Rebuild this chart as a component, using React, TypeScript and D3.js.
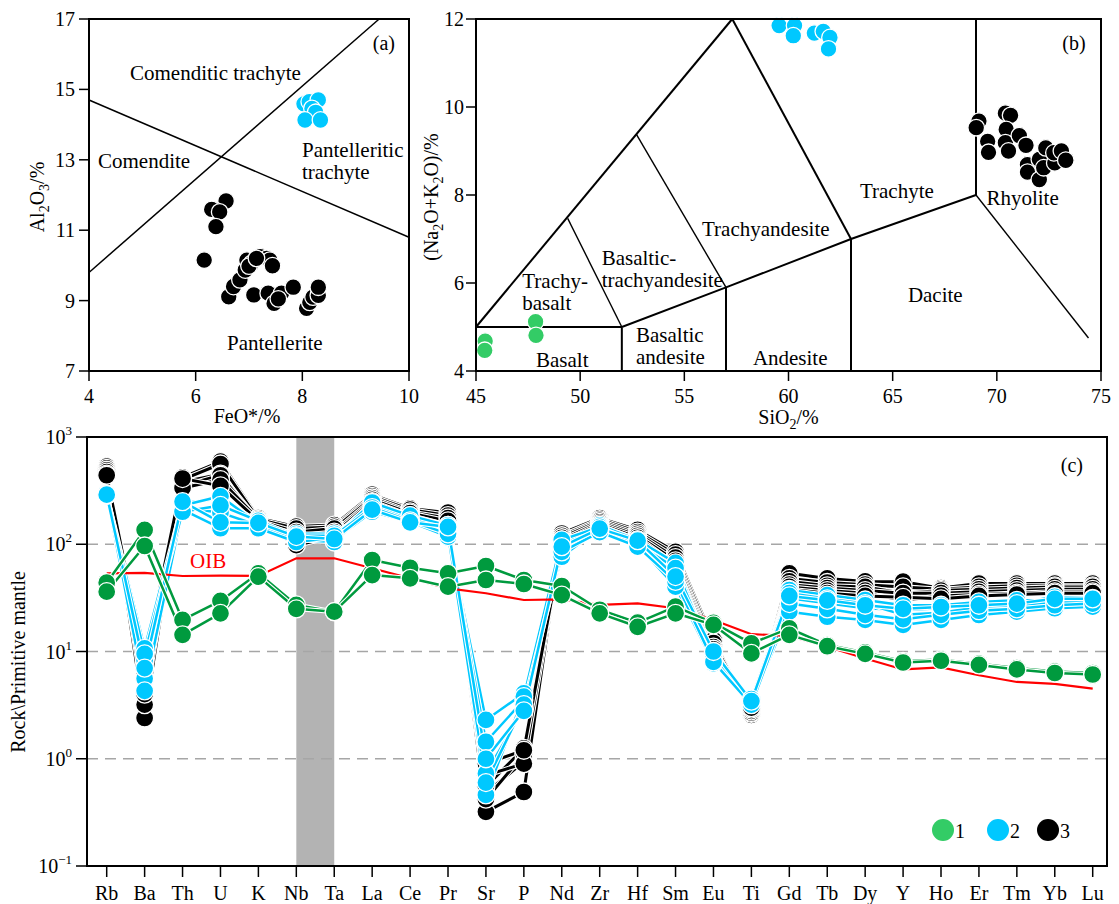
import React from 'react';
import * as d3 from 'd3';

const FONT = '"Liberation Serif", "Times New Roman", Times, serif';

// ---------- Panel (a) data ----------
const aXTicks = [4, 6, 8, 10];
const aYTicks = [7, 9, 11, 13, 15, 17];
const aBoundaryDesc: [number, number][] = [[4, 14.7], [10, 10.8]];
const aBoundaryAsc: [number, number][] = [[4, 9.8], [9.44, 17]];
const aBlack: [number, number][] = [
  [6.57, 11.83], [6.36, 11.57], [6.3, 11.59], [6.45, 11.52], [6.38, 11.1], [6.16, 10.15],
  [6.62, 9.11], [6.71, 9.4], [6.83, 9.59], [6.93, 9.87], [6.96, 10.15], [7.05, 10.06],
  [7.21, 10.25], [7.33, 10.2], [7.39, 10.15], [7.44, 9.99], [7.09, 9.16], [7.36, 9.21],
  [7.47, 8.92], [7.61, 9.21], [7.55, 9.05], [7.83, 9.38], [8.08, 8.78], [8.14, 8.95],
  [8.2, 9.1], [8.3, 9.15], [8.3, 9.38], [7.0, 9.98], [7.14, 10.2],
];
const aBlue: [number, number][] = [
  [8.03, 14.59], [8.13, 14.65], [8.3, 14.7], [8.18, 14.46], [8.25, 14.35], [8.05, 14.13], [8.34, 14.13],
];

// ---------- Panel (b) data ----------
const bXTicks = [45, 50, 55, 60, 65, 70, 75];
const bYTicks = [4, 6, 8, 10, 12];
const tasThick: [number, number][][] = [
  [[45, 5], [57.3, 12]],
  [[57.3, 12], [63, 7]],
  [[45, 5], [52, 5]],
  [[52, 4], [52, 5], [57, 5.9], [63, 7], [69, 8], [69, 12]],
  [[57, 4], [57, 5.9]],
  [[63, 4], [63, 7]],
];
const tasThin: [number, number][][] = [
  [[49.4, 7.47], [52, 5]],
  [[52.7, 9.38], [57, 5.9]],
  [[69, 8], [74.4, 4.75]],
];
const bGreen: [number, number][] = [[45.44, 4.68], [45.42, 4.47], [47.86, 5.12], [47.88, 4.81]];
const bBlue: [number, number][] = [
  [59.55, 11.85], [60.29, 11.85], [60.23, 11.62], [61.24, 11.68], [61.67, 11.72], [61.99, 11.58], [61.92, 11.32],
];
const bBlack: [number, number][] = [
  [69.14, 9.68], [69.01, 9.53], [69.56, 9.22], [69.6, 8.97], [70.41, 9.86], [70.66, 9.81],
  [70.45, 9.49], [70.41, 9.19], [70.56, 9.0], [71.08, 9.35], [71.4, 9.13], [71.47, 8.69],
  [71.47, 8.52], [72.04, 8.35], [72.04, 8.81], [72.25, 8.62], [72.35, 9.07], [72.78, 8.73],
  [72.74, 8.96], [73.1, 9.0], [73.31, 8.79],
];

// ---------- Panel (c) data ----------
const elements = ['Rb', 'Ba', 'Th', 'U', 'K', 'Nb', 'Ta', 'La', 'Ce', 'Pr', 'Sr', 'P', 'Nd', 'Zr', 'Hf',
  'Sm', 'Eu', 'Ti', 'Gd', 'Tb', 'Dy', 'Y', 'Ho', 'Er', 'Tm', 'Yb', 'Lu'];
const cYExponents = [-1, 0, 1, 2, 3];
const oib = [53.6, 54, 50.6, 51, 50.6, 74, 74, 59.7, 48.1, 38.8, 34.9, 30.2, 30.6, 27.2, 28.1, 25.3, 19.7,
  14.5, 14.0, 11.1, 8.6, 6.8, 7.1, 6.0, 5.2, 5.0, 4.5];
const group1 = [
  [43.8, 136, 19.7, 29.6, 53.6, 27.2, 23.5, 71.3, 60.4, 53.6, 62.7, 46.4, 40.8, 24.5, 18.6, 26.2, 18.5, 11.9, 16.4, 11.5, 9.8, 8.1, 8.4, 7.7, 7.0, 6.5, 6.3],
  [36.1, 96.3, 14.3, 22.7, 49.9, 25.0, 23.5, 51.6, 48.1, 40.2, 46.4, 42.6, 33.6, 22.7, 17.0, 22.7, 17.7, 9.6, 14.3, 11.2, 9.5, 7.9, 8.2, 7.5, 6.8, 6.3, 6.1],
];
const group2 = [
  [290, 10.7, 241, 268, 162, 114, 110, 201, 162, 118, 2.3, 4.07, 76.5, 141, 98.4, 40.2, 7.76, 3.4, 23.5, 21.1, 19.7, 17.7, 19.7, 21.9, 23.5, 25.3, 26.2],
  [292, 8.3, 230, 280, 155, 125, 125, 215, 170, 130, 1.44, 3.53, 90, 135, 105, 53.6, 9.6, 3.3, 31.3, 28.1, 25.3, 24.4, 25.3, 28.1, 28.1, 32.4, 31.3],
  [285, 5.6, 220, 197, 150, 110, 105, 230, 175, 140, 0.73, 2.95, 100, 150, 110, 66.9, 8.5, 3.5, 37.4, 33.6, 30.2, 27, 27, 29, 30, 30, 30],
  [295, 4.3, 210, 141, 141, 105, 115, 245, 185, 150, 0.46, 3.8, 110, 145, 100, 60, 9, 3.6, 35, 31, 28, 22, 23, 26, 27, 29, 29],
  [288, 9.5, 201, 230, 165, 120, 120, 220, 165, 125, 0.6, 3.2, 85, 130, 95, 45, 8, 3.2, 28, 25, 22, 20, 22, 24, 25, 27, 28],
  [290, 7, 250, 160, 158, 118, 112, 210, 160, 145, 1.0, 2.8, 95, 140, 108, 50, 10, 3.45, 33, 30, 27, 25, 26, 27, 28, 31, 31],
];
const group3 = [
  [530, 2.4, 420, 590, 175, 146, 151, 290, 216, 197, 0.32, 0.49, 126, 175, 136, 85, 12.8, 2.56, 53.6, 48, 45, 44.8, 39, 43, 43, 43, 43],
  [510, 3.2, 400, 560, 170, 140, 145, 280, 210, 185, 0.48, 0.94, 120, 170, 130, 80, 12, 2.65, 48, 44, 42, 40, 38, 40, 41, 41, 41],
  [490, 4.0, 380, 450, 165, 130, 140, 270, 200, 175, 0.55, 1.25, 115, 165, 125, 75, 11, 2.7, 45, 41, 40, 34.9, 37, 38, 39, 40, 40],
  [470, 5.5, 350, 440, 160, 120, 130, 260, 195, 165, 0.42, 1.1, 110, 160, 120, 70, 10.5, 2.8, 42, 39, 37, 35, 35, 36, 37, 38, 38],
  [450, 7, 335, 400, 170, 110, 125, 250, 185, 150, 0.7, 0.9, 105, 155, 115, 65, 10, 2.9, 40, 37, 35, 30, 33, 34, 35, 36, 36],
  [440, 8, 410, 350, 165, 98, 118, 240, 180, 140, 0.9, 1.2, 100, 150, 110, 60, 9.5, 3.0, 38, 35, 33, 32, 31, 33, 34, 35, 35],
];
const legendItems = ['1', '2', '3'];

// ---------- colours ----------
const GREEN_LIGHT = '#33cc66';
const GREEN_DARK = '#009a3e';
const BLUE = '#00c8ff';
const BLACK = '#000000';

export default function App() {
  // panel a scales
  const ax = d3.scaleLinear().domain([4, 10]).range([89, 409]);
  const ay = d3.scaleLinear().domain([7, 17]).range([371, 19]);
  // panel b scales
  const bx = d3.scaleLinear().domain([45, 75]).range([476, 1101]);
  const by = d3.scaleLinear().domain([4, 12]).range([371, 19]);
  // panel c scales
  const cx = d3.scalePoint<string>().domain(elements).range([106.7, 1092.7]);
  const cy = d3.scaleLog().domain([0.1, 1000]).range([866, 437]);

  const aLine = d3.line<[number, number]>().x(d => ax(d[0])).y(d => ay(d[1]));
  const bLine = d3.line<[number, number]>().x(d => bx(d[0])).y(d => by(d[1]));
  const cLine = d3.line<number>().x((_, i) => cx(elements[i]) as number).y(d => cy(d));

  const tick = 10;
  const LBL = 21;

  const drawGroup = (data: number[][], color: string, width: number, key: string) => (
    <g key={key}>
      {data.map((s, i) => (
        <g key={'l' + i}>
          <path d={cLine(s) || ''} fill="none" stroke="#fff" strokeWidth={width + 2.2} strokeLinejoin="round" />
          <path d={cLine(s) || ''} fill="none" stroke={color} strokeWidth={width} strokeLinejoin="round" />
        </g>
      ))}
      {data.map((s, i) => (
        <g key={'m' + i}>
          {s.map((v, j) => (
            <circle key={j} cx={cx(elements[j])} cy={cy(v)} r={9} fill={color} stroke="#fff" strokeWidth={1.3} />
          ))}
        </g>
      ))}
    </g>
  );

  const legendColors = [GREEN_LIGHT, BLUE, BLACK];
  const legendX = [943, 998, 1048];

  return (
    <svg width={1119} height={904} style={{ position: 'absolute', left: 0, top: 0, background: '#fff' }}
      fontFamily={FONT} fontSize={20}>
      <rect x={0} y={0} width={1119} height={904} fill="#fff" />

      {/* ================= Panel (a) ================= */}
      <g>
        <path d={aLine(aBoundaryDesc) || ''} stroke="#000" strokeWidth={1.5} fill="none" />
        <path d={aLine(aBoundaryAsc) || ''} stroke="#000" strokeWidth={1.5} fill="none" />
        {aBlack.map((p, i) => (
          <circle key={'ab' + i} cx={ax(p[0])} cy={ay(p[1])} r={8.3} fill={BLACK} stroke="#fff" strokeWidth={1.3} />
        ))}
        {aBlue.map((p, i) => (
          <circle key={'au' + i} cx={ax(p[0])} cy={ay(p[1])} r={8.3} fill={BLUE} stroke="#fff" strokeWidth={1.3} />
        ))}
        <rect x={ax(4)} y={ay(17)} width={ax(10) - ax(4)} height={ay(7) - ay(17)} fill="none" stroke="#000" strokeWidth={2} />
        {aXTicks.map(t => (
          <g key={'axt' + t}>
            <line x1={ax(t)} x2={ax(t)} y1={ay(7)} y2={ay(7) + tick} stroke="#000" strokeWidth={1.5} />
            <text x={ax(t)} y={403} textAnchor="middle">{t}</text>
          </g>
        ))}
        {aYTicks.map(t => (
          <g key={'ayt' + t}>
            <line x1={ax(4) - tick} x2={ax(4)} y1={ay(t)} y2={ay(t)} stroke="#000" strokeWidth={1.5} />
            <text x={ax(4) - 14} y={ay(t) + 7} textAnchor="end">{t}</text>
          </g>
        ))}
        <text x={247} y={423} textAnchor="middle">FeO*/%</text>
        <text transform={`translate(44,197) rotate(-90)`} textAnchor="middle">
          Al<tspan fontSize={14} dy={5}>2</tspan><tspan dy={-5}>O</tspan><tspan fontSize={14} dy={5}>3</tspan><tspan dy={-5}>/%</tspan>
        </text>
        <text x={395} y={50} textAnchor="end">(a)</text>
        <g fontSize={LBL}>
          <text x={130} y={80}>Comenditic trachyte</text>
          <text x={98} y={168}>Comendite</text>
          <text x={302} y={157}>Pantelleritic</text>
          <text x={302} y={179}>trachyte</text>
          <text x={227} y={350}>Pantellerite</text>
        </g>
      </g>

      {/* ================= Panel (b) ================= */}
      <g>
        {tasThick.map((pl, i) => (
          <path key={'tk' + i} d={bLine(pl) || ''} stroke="#000" strokeWidth={2} fill="none" strokeLinejoin="miter" />
        ))}
        {tasThin.map((pl, i) => (
          <path key={'tn' + i} d={bLine(pl) || ''} stroke="#000" strokeWidth={1.4} fill="none" />
        ))}
        {bGreen.map((p, i) => (
          <circle key={'bg' + i} cx={bx(p[0])} cy={by(p[1])} r={8.3} fill={GREEN_LIGHT} stroke="#fff" strokeWidth={1.3} />
        ))}
        {bBlue.map((p, i) => (
          <circle key={'bu' + i} cx={bx(p[0])} cy={by(p[1])} r={8.3} fill={BLUE} stroke="#fff" strokeWidth={1.3} />
        ))}
        {bBlack.map((p, i) => (
          <circle key={'bb' + i} cx={bx(p[0])} cy={by(p[1])} r={8.3} fill={BLACK} stroke="#fff" strokeWidth={1.3} />
        ))}
        <rect x={bx(45)} y={by(12)} width={bx(75) - bx(45)} height={by(4) - by(12)} fill="none" stroke="#000" strokeWidth={2} />
        {bXTicks.map(t => (
          <g key={'bxt' + t}>
            <line x1={bx(t)} x2={bx(t)} y1={by(4)} y2={by(4) + tick} stroke="#000" strokeWidth={1.5} />
            <text x={bx(t)} y={403} textAnchor="middle">{t}</text>
          </g>
        ))}
        {bYTicks.map(t => (
          <g key={'byt' + t}>
            <line x1={bx(45) - tick} x2={bx(45)} y1={by(t)} y2={by(t)} stroke="#000" strokeWidth={1.5} />
            <text x={bx(45) - 12} y={by(t) + 7} textAnchor="end">{t}</text>
          </g>
        ))}
        <text x={bx(60)} y={424} textAnchor="middle">
          SiO<tspan fontSize={14} dy={5}>2</tspan><tspan dy={-5}>/%</tspan>
        </text>
        <text transform={`translate(438,197) rotate(-90)`} textAnchor="middle">
          (Na<tspan fontSize={14} dy={5}>2</tspan><tspan dy={-5}>O+K</tspan><tspan fontSize={14} dy={5}>2</tspan><tspan dy={-5}>O)/%</tspan>
        </text>
        <text x={bx(74.26)} y={50} textAnchor="end">(b)</text>
        <g fontSize={LBL}>
          <text x={bx(63.43)} y={by(7.93)}>Trachyte</text>
          <text x={bx(69.5)} y={by(7.78)}>Rhyolite</text>
          <text x={bx(55.85)} y={by(7.06)}>Trachyandesite</text>
          <text x={bx(51.03)} y={by(6.41)}>Basaltic-</text>
          <text x={bx(51.03)} y={by(5.92)}>trachyandesite</text>
          <text x={bx(47.22)} y={by(5.88)}>Trachy-</text>
          <text x={bx(47.22)} y={by(5.38)}>basalt</text>
          <text x={bx(47.88)} y={by(4.09)}>Basalt</text>
          <text x={bx(52.68)} y={by(4.66)}>Basaltic</text>
          <text x={bx(52.68)} y={by(4.17)}>andesite</text>
          <text x={bx(58.29)} y={by(4.13)}>Andesite</text>
          <text x={bx(65.73)} y={by(5.57)}>Dacite</text>
        </g>
      </g>

      {/* ================= Panel (c) ================= */}
      <g>
        <rect x={cx('Nb')} y={437} width={(cx('Ta') as number) - (cx('Nb') as number)} height={866 - 437} fill="#b3b3b3" />
        {[0, 1, 2].map(e => (
          <line key={'dash' + e} x1={87} x2={1107} y1={cy(Math.pow(10, e))} y2={cy(Math.pow(10, e))}
            stroke="#a6a6a6" strokeWidth={1.5} strokeDasharray="11 7" />
        ))}
        {drawGroup(group3, BLACK, 3, 'g3')}
        {drawGroup(group2, BLUE, 2.5, 'g2')}
        <path d={cLine(oib) || ''} fill="none" stroke="#ff0000" strokeWidth={2.2} />
        {drawGroup(group1, GREEN_DARK, 2.5, 'g1')}
        <text x={190} y={568} fill="#ff0000" fontSize={21}>OIB</text>

        <rect x={87} y={437} width={1107 - 87} height={866 - 437} fill="none" stroke="#000" strokeWidth={2} />
        {elements.map(el => (
          <g key={'cx' + el}>
            <line x1={cx(el)} x2={cx(el)} y1={866} y2={877} stroke="#000" strokeWidth={1.5} />
            <text x={cx(el)} y={900} textAnchor="middle">{el}</text>
          </g>
        ))}
        {cYExponents.map(e => (
          <g key={'cy' + e}>
            <line x1={76} x2={87} y1={cy(Math.pow(10, e))} y2={cy(Math.pow(10, e))} stroke="#000" strokeWidth={1.5} />
            <text x={72} y={cy(Math.pow(10, e)) + 7} textAnchor="end">
              10<tspan fontSize={13} dy={-9}>{e < 0 ? '\u2212' + Math.abs(e) : String(e)}</tspan>
            </text>
          </g>
        ))}
        <text transform={`translate(25,662) rotate(-90)`} textAnchor="middle">{'Rock\\Primitive mantle'}</text>
        <text x={1083} y={472} textAnchor="end">(c)</text>
        {legendItems.map((lbl, i) => (
          <g key={'lg' + i}>
            <circle cx={legendX[i]} cy={830} r={11} fill={legendColors[i]} />
            <text x={legendX[i] + 12} y={838}>{lbl}</text>
          </g>
        ))}
      </g>
    </svg>
  );
}
